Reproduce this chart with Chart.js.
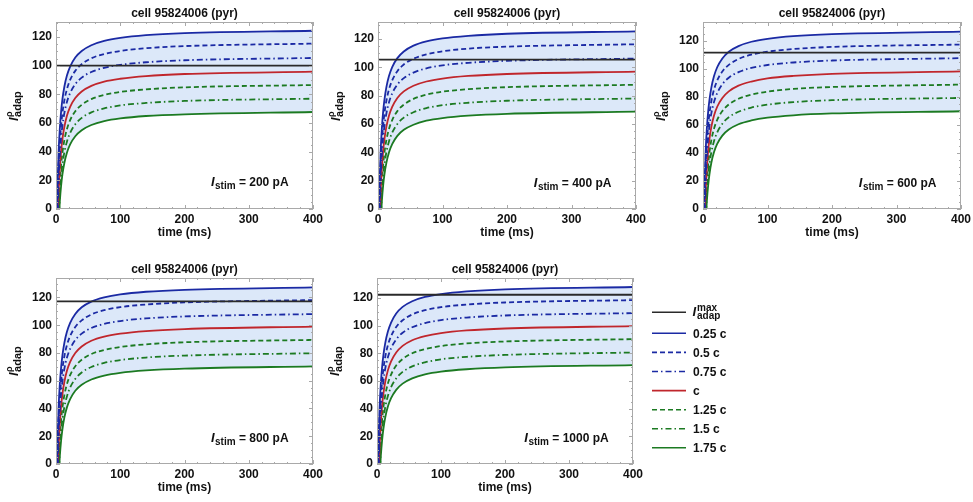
<!DOCTYPE html>
<html>
<head>
<meta charset="utf-8">
<script src="https://cdn.jsdelivr.net/npm/chart.js@4.4.1/dist/chart.umd.min.js"></script>
<style>
  body { margin: 0; background: #fff; width: 973px; height: 502px; position: relative; overflow: hidden; }
  canvas { position: absolute; }
  #legend { position: absolute; left: 640px; top: 290px; }
</style>
</head>
<body>
<canvas id="p0" width="325" height="249" style="left:0px;top:0px"></canvas>
<canvas id="p1" width="326" height="249" style="left:322px;top:0px"></canvas>
<canvas id="p2" width="326" height="249" style="left:647px;top:0px"></canvas>
<canvas id="p3" width="325" height="248" style="left:0px;top:256px"></canvas>
<canvas id="p4" width="324" height="248" style="left:321px;top:256px"></canvas>
<svg id="legend" width="150" height="175"></svg>
<script>
// time axis (ms), shared by every curve
const times = [0, 2, 4, 6, 8, 10, 13, 17, 22, 30, 40, 55, 75, 100, 140, 200, 400];
const curveLabels = ['0.25 c', '0.5 c', '0.75 c', 'c', '1.25 c', '1.5 c', '1.75 c'];
const stimCurrents = [200, 400, 600, 800, 1000];
const maxRates = [100, 105.5, 111.7, 117.1, 122.4];
const yTops = [130.5, 132, 133.5, 134, 134.5];

// f_adap values, one row per curve (0.25c ... 1.75c)
const rates200 = [
  [-10, 10.5, 39.4, 56.7, 68.3, 76.6, 85.3, 93.1, 99.4, 105.7, 110.3, 114.3, 117.3, 119.4, 121.3, 122.7, 124.4],
  [-10, 0, 29.3, 46.8, 58.6, 66.9, 75.8, 83.6, 90.1, 96.4, 101.1, 105.2, 108.2, 110.3, 112.2, 113.7, 115.4],
  [-10, -10, 20.6, 38.2, 49.9, 58.2, 66.9, 74.7, 80.9, 87.1, 91.7, 95.6, 98.5, 100.6, 102.4, 103.8, 105.4],
  [-10, -10, 12.2, 29.3, 40.6, 48.8, 57.3, 65.0, 71.3, 77.4, 82.0, 85.9, 88.9, 90.9, 92.8, 94.2, 95.8],
  [-10, -10, 2.2, 19.6, 31.1, 39.3, 48.0, 55.7, 62.0, 68.2, 72.7, 76.7, 79.6, 81.7, 83.5, 84.9, 86.5],
  [-10, -10, -10, 11.9, 23.1, 31.1, 39.5, 47.0, 53.1, 59.1, 63.6, 67.4, 70.2, 72.3, 74.0, 75.4, 77.0],
  [-10, -10, -10, 5.6, 16.4, 24.1, 32.1, 39.3, 45.1, 50.8, 55.0, 58.6, 61.3, 63.2, 64.9, 66.1, 67.7]
];
const rates400 = [
  [-10, 10.6, 39.7, 57.2, 68.9, 77.2, 86.0, 93.8, 100.2, 106.5, 111.2, 115.3, 118.3, 120.4, 122.2, 123.7, 125.4],
  [-10, 0, 29.5, 47.2, 59.1, 67.5, 76.4, 84.4, 90.8, 97.3, 102.0, 106.1, 109.1, 111.3, 113.2, 114.6, 116.3],
  [-10, -10, 20.7, 38.5, 50.3, 58.6, 67.4, 75.2, 81.6, 87.8, 92.4, 96.3, 99.3, 101.4, 103.2, 104.6, 106.2],
  [-10, -10, 12.3, 29.6, 41.1, 49.4, 58.1, 65.8, 72.1, 78.4, 83.0, 87.0, 90.0, 92.1, 93.9, 95.3, 97.0],
  [-10, -10, 2.3, 19.9, 31.5, 39.9, 48.7, 56.5, 62.8, 69.1, 73.7, 77.7, 80.7, 82.8, 84.6, 86.0, 87.7],
  [-10, -10, -10, 12.1, 23.4, 31.5, 40.1, 47.7, 53.9, 60.0, 64.5, 68.3, 71.2, 73.3, 75.0, 76.4, 78.0],
  [-10, -10, -10, 5.7, 16.7, 24.5, 32.6, 39.9, 45.8, 51.6, 55.9, 59.5, 62.3, 64.2, 65.9, 67.2, 68.7]
];
const rates600 = [
  [-10, 10.7, 40.1, 57.7, 69.5, 77.9, 86.8, 94.7, 101.2, 107.5, 112.3, 116.3, 119.4, 121.5, 123.4, 124.8, 126.6],
  [-10, 0, 29.8, 47.7, 59.6, 68.1, 77.1, 85.1, 91.7, 98.2, 102.9, 107.1, 110.2, 112.3, 114.2, 115.7, 117.4],
  [-10, -10, 21.0, 39.1, 51.0, 59.5, 68.4, 76.3, 82.7, 89.0, 93.7, 97.7, 100.7, 102.8, 104.6, 106.0, 107.7],
  [-10, -10, 12.5, 30.0, 41.6, 50.0, 58.8, 66.6, 73.0, 79.3, 84.0, 88.1, 91.0, 93.2, 95.0, 96.5, 98.2],
  [-10, -10, 2.3, 20.1, 31.9, 40.4, 49.3, 57.2, 63.6, 69.9, 74.6, 78.7, 81.7, 83.8, 85.7, 87.1, 88.8],
  [-10, -10, -10, 12.3, 23.8, 32.1, 40.7, 48.4, 54.7, 60.9, 65.5, 69.4, 72.4, 74.5, 76.3, 77.7, 79.3],
  [-10, -10, -10, 5.8, 16.9, 24.8, 33.2, 40.5, 46.5, 52.4, 56.7, 60.5, 63.2, 65.2, 66.9, 68.2, 69.8]
];
const rates800 = [
  [-10, 10.7, 40.3, 58.1, 69.9, 78.3, 87.3, 95.2, 101.7, 108.1, 112.9, 117.0, 120.0, 122.2, 124.1, 125.5, 127.2],
  [-10, 0, 30.0, 48.0, 60.0, 68.5, 77.6, 85.6, 92.2, 98.7, 103.5, 107.7, 110.8, 113.0, 114.9, 116.4, 118.1],
  [-10, -10, 21.1, 39.2, 51.1, 59.6, 68.6, 76.5, 82.9, 89.3, 93.9, 98.0, 100.9, 103.0, 104.9, 106.3, 108.0],
  [-10, -10, 12.6, 30.2, 42.0, 50.4, 59.2, 67.1, 73.6, 80.0, 84.7, 88.8, 91.8, 93.9, 95.8, 97.2, 99.0],
  [-10, -10, 2.3, 20.2, 32.1, 40.6, 49.6, 57.5, 64.0, 70.4, 75.1, 79.2, 82.2, 84.3, 86.2, 87.7, 89.4],
  [-10, -10, -10, 12.3, 24.0, 32.2, 41.0, 48.7, 55.1, 61.3, 65.9, 69.9, 72.8, 74.9, 76.7, 78.1, 79.8],
  [-10, -10, -10, 5.9, 17.1, 25.0, 33.4, 40.8, 46.8, 52.8, 57.1, 60.9, 63.7, 65.7, 67.4, 68.7, 70.3]
];
const rates1000 = [
  [-10, 10.8, 40.6, 58.4, 70.3, 78.8, 87.8, 95.8, 102.3, 108.8, 113.6, 117.7, 120.8, 122.9, 124.8, 126.3, 128.0],
  [-10, 0, 30.1, 48.1, 60.2, 68.7, 77.8, 85.9, 92.5, 99.1, 103.9, 108.1, 111.2, 113.4, 115.3, 116.8, 118.5],
  [-10, -10, 21.3, 39.6, 51.6, 60.2, 69.3, 77.2, 83.7, 90.1, 94.9, 98.9, 101.9, 104.1, 105.9, 107.4, 109.1],
  [-10, -10, 12.7, 30.5, 42.3, 50.8, 59.7, 67.7, 74.2, 80.6, 85.4, 89.5, 92.5, 94.7, 96.6, 98.0, 99.7],
  [-10, -10, 2.3, 20.5, 32.5, 41.1, 50.1, 58.2, 64.7, 71.2, 75.9, 80.1, 83.1, 85.3, 87.2, 88.6, 90.3],
  [-10, -10, -10, 12.5, 24.2, 32.6, 41.4, 49.2, 55.6, 61.9, 66.6, 70.6, 73.5, 75.7, 77.5, 78.9, 80.6],
  [-10, -10, -10, 6.0, 17.3, 25.4, 33.9, 41.5, 47.6, 53.6, 58.1, 61.9, 64.8, 66.8, 68.5, 69.9, 71.5]
];
const panelRates = [rates200, rates400, rates600, rates800, rates1000];

// line looks, one per curve
const BLUE = '#1b2aa4', RED = '#c0262c', GREEN = '#1c7a22';
const DASH = [5, 3], DASHDOT = [6, 3, 1.5, 3];
const curveStyles = [
  { color: BLUE, dash: [] }, { color: BLUE, dash: DASH }, { color: BLUE, dash: DASHDOT },
  { color: RED, dash: [] },
  { color: GREEN, dash: DASH }, { color: GREEN, dash: DASHDOT }, { color: GREEN, dash: [] }
];
const MAX_COLOR = '#2a2a2a';
const FILL = '#dce8f9';
const FONT = '"Liberation Sans", Arial, sans-serif';

// frame, inner ticks, title, y label and I_stim note
const decor = {
  id: 'decor',
  afterDatasetsDraw(chart, args, opts) {
    const { ctx, chartArea: a, scales: { x, y } } = chart;
    ctx.save();
    ctx.strokeStyle = '#a9a9a9';
    ctx.lineWidth = 1;
    ctx.strokeRect(a.left + 0.5, a.top + 0.5, a.right - a.left - 1, a.bottom - a.top - 1);
    ctx.beginPath();
    for (let t = 0; t <= 400; t += 20) {
      const px = Math.round(x.getPixelForValue(t)) + 0.5;
      const len = t % 100 === 0 ? 4 : 2;
      ctx.moveTo(px, a.bottom); ctx.lineTo(px, a.bottom - len);
      ctx.moveTo(px, a.top); ctx.lineTo(px, a.top + len);
    }
    for (let v = 0; v <= y.max; v += 5) {
      const py = Math.round(y.getPixelForValue(v)) + 0.5;
      const len = v % 20 === 0 ? 4 : 2;
      ctx.moveTo(a.left, py); ctx.lineTo(a.left + len, py);
      ctx.moveTo(a.right, py); ctx.lineTo(a.right - len, py);
    }
    ctx.stroke();

    ctx.fillStyle = '#111';
    // title
    ctx.font = 'bold 12px ' + FONT;
    ctx.textAlign = 'center';
    ctx.textBaseline = 'alphabetic';
    ctx.fillText('cell 95824006 (pyr)', (a.left + a.right) / 2, 17);

    // y label: I with superscript rho and subscript adap
    ctx.save();
    ctx.translate(a.left - 38, a.bottom - 88);
    ctx.rotate(-Math.PI / 2);
    ctx.textAlign = 'left';
    ctx.font = 'italic bold 13px ' + FONT;
    ctx.fillText('I', 0, 0);
    const wi = ctx.measureText('I').width + 0.5;
    ctx.font = 'bold 9px ' + FONT;
    ctx.fillText('\u03c1', wi, -6);
    ctx.font = 'bold 11px ' + FONT;
    ctx.fillText('adap', wi, 3);
    ctx.restore();

    // I_stim note, right edge anchored in data space
    const ax = x.getPixelForValue(362), ay = y.getPixelForValue(19) + 4.5;
    const rest = ' = ' + opts.stim + ' pA';
    ctx.textAlign = 'left';
    ctx.font = 'italic bold 13px ' + FONT;
    const w1 = ctx.measureText('I').width + 0.5;
    ctx.font = 'bold 10px ' + FONT;
    const w2 = ctx.measureText('stim').width;
    ctx.font = 'bold 12px ' + FONT;
    const w3 = ctx.measureText(rest).width;
    const sx = ax - (w1 + w2 + w3);
    ctx.font = 'italic bold 13px ' + FONT;
    ctx.fillText('I', sx, ay);
    ctx.font = 'bold 10px ' + FONT;
    ctx.fillText('stim', sx + w1, ay + 3);
    ctx.font = 'bold 12px ' + FONT;
    ctx.fillText(rest, sx + w1 + w2, ay);
    ctx.restore();
  }
};

function buildDatasets(rows, maxRate) {
  const sets = [{
    label: 'max',
    data: [{ x: 0, y: maxRate }, { x: 400, y: maxRate }],
    borderColor: MAX_COLOR, borderWidth: 1.8, pointRadius: 0, fill: false
  }];
  rows.forEach((vals, i) => {
    sets.push({
      label: curveLabels[i],
      data: times.map((t, j) => ({ x: t, y: vals[j] })),
      borderColor: curveStyles[i].color,
      borderDash: curveStyles[i].dash,
      borderWidth: 1.8,
      pointRadius: 0,
      cubicInterpolationMode: 'monotone',
      backgroundColor: FILL,
      fill: i === rows.length - 1 ? { target: 1 } : false
    });
  });
  return sets;
}

const tickFont = { family: FONT, weight: 'bold', size: 12 };

stimCurrents.forEach((stim, p) => {
  new Chart(document.getElementById('p' + p), {
    type: 'line',
    data: { datasets: buildDatasets(panelRates[p], maxRates[p]) },
    options: {
      responsive: false,
      animation: false,
      layout: { padding: { top: 22, right: 12, left: 0, bottom: 0 } },
      plugins: {
        legend: { display: false },
        tooltip: { enabled: false },
        decor: { stim: stim }
      },
      scales: {
        x: {
          type: 'linear', min: 0, max: 400,
          grid: { display: false, drawTicks: false },
          border: { display: false },
          ticks: { stepSize: 100, padding: 3, maxRotation: 0, color: '#111', font: tickFont },
          title: { display: true, text: 'time (ms)', color: '#111', font: tickFont, padding: { top: 0, bottom: 9 } },
          afterFit(s) { s.height = 40; s.paddingLeft = 0; s.paddingRight = 0; }
        },
        y: {
          min: 0, max: yTops[p],
          grid: { display: false, drawTicks: false },
          border: { display: false },
          ticks: { stepSize: 20, includeBounds: false, padding: 4, color: '#111', font: tickFont },
          afterFit(s) { s.width = 56; }
        }
      }
    },
    plugins: [decor]
  });
});

// legend on the right of the bottom row
const svgNS = 'http://www.w3.org/2000/svg';
const legend = document.getElementById('legend');
const rowY = [22.3, 43.3, 62.4, 81.5, 100.6, 119.7, 138.8, 157.8];
function svgEl(name, attrs, text) {
  const el = document.createElementNS(svgNS, name);
  for (const k in attrs) el.setAttribute(k, attrs[k]);
  if (text !== undefined) el.textContent = text;
  legend.appendChild(el);
  return el;
}
const legendItems = [{ color: MAX_COLOR, dash: [] }].concat(curveStyles);
legendItems.forEach((st, i) => {
  svgEl('line', {
    x1: 12, x2: 46, y1: rowY[i], y2: rowY[i],
    stroke: st.color, 'stroke-width': 1.6,
    'stroke-dasharray': st.dash.length ? st.dash.join(' ') : 'none'
  });
  const base = { fill: '#111', 'font-family': FONT, 'font-weight': 'bold' };
  if (i === 0) {
    svgEl('text', Object.assign({ x: 52.5, y: rowY[i] + 4, 'font-size': 13, 'font-style': 'italic' }, base), 'I');
    svgEl('text', Object.assign({ x: 57, y: rowY[i] - 1, 'font-size': 10 }, base), 'max');
    svgEl('text', Object.assign({ x: 57, y: rowY[i] + 7, 'font-size': 10 }, base), 'adap');
  } else {
    svgEl('text', Object.assign({ x: 53, y: rowY[i] + 4.5, 'font-size': 12 }, base), curveLabels[i - 1]);
  }
});
</script>
</body>
</html>
